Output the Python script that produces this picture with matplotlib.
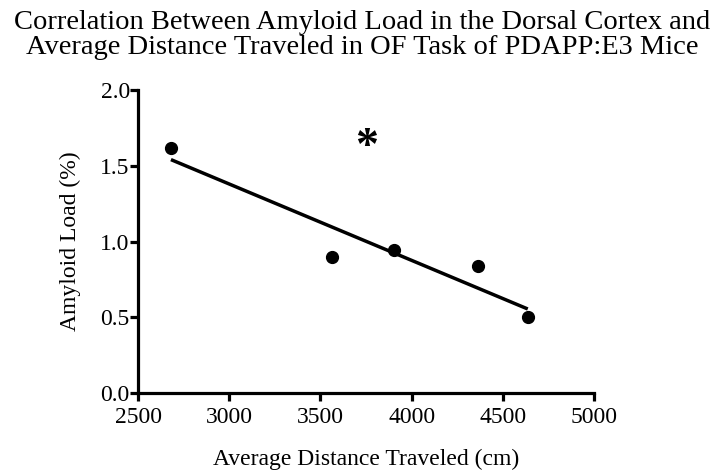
import numpy as np
import matplotlib
matplotlib.use('Agg')
import matplotlib.pyplot as plt

# values
distance = [2680, 3565, 3902, 4364, 4637]
amyloid = [1.62, 0.90, 0.948, 0.84, 0.504]
x_ticks = [2500, 3000, 3500, 4000, 4500, 5000]
y_ticks = [0.0, 0.5, 1.0, 1.5, 2.0]
star_pos = (3753, 1.62)

plt.rcParams['font.family'] = ['Liberation Serif', 'DejaVu Serif']

fig = plt.figure(figsize=(7.27, 4.72), dpi=100)
ax = fig.add_axes([0.19, 0.167, 0.627, 0.642])

ax.plot(distance, amyloid, 'o', color='black', markersize=8.5)

# linear fit over the data range
slope, intercept = np.polyfit(distance, amyloid, 1)
fit_x = np.array([min(distance), max(distance)])
ax.plot(fit_x, slope * fit_x + intercept, color='black', lw=2.5, solid_capstyle='butt')

ax.text(star_pos[0], star_pos[1], '*', fontsize=33, fontweight='bold',
        ha='center', va='center')

ax.set_xlim(2500, 5000)
ax.set_ylim(0, 2.0)
ax.set_xticks(x_ticks)
ax.set_yticks(y_ticks)
ax.set_yticklabels([f'{v:.1f}' for v in y_ticks])
ax.spines['top'].set_visible(False)
ax.spines['right'].set_visible(False)
for s in ['left', 'bottom']:
    ax.spines[s].set_linewidth(2.3)
ax.tick_params(width=2.3, length=6, labelsize=17)
ax.tick_params(axis='y', pad=0)
ax.tick_params(axis='x', pad=4)

ax.set_xlabel('Average Distance Traveled (cm)', fontsize=17, labelpad=15)
ax.set_ylabel('Amyloid Load (%)', fontsize=17, labelpad=14)

fig.text(0.4986, 0.978,
         'Correlation Between Amyloid Load in the Dorsal Cortex and\n'
         'Average Distance Traveled in OF Task of PDAPP:E3 Mice',
         ha='center', va='top', fontsize=20.5, linespacing=1.0)

fig.savefig('out.png', dpi=100)
